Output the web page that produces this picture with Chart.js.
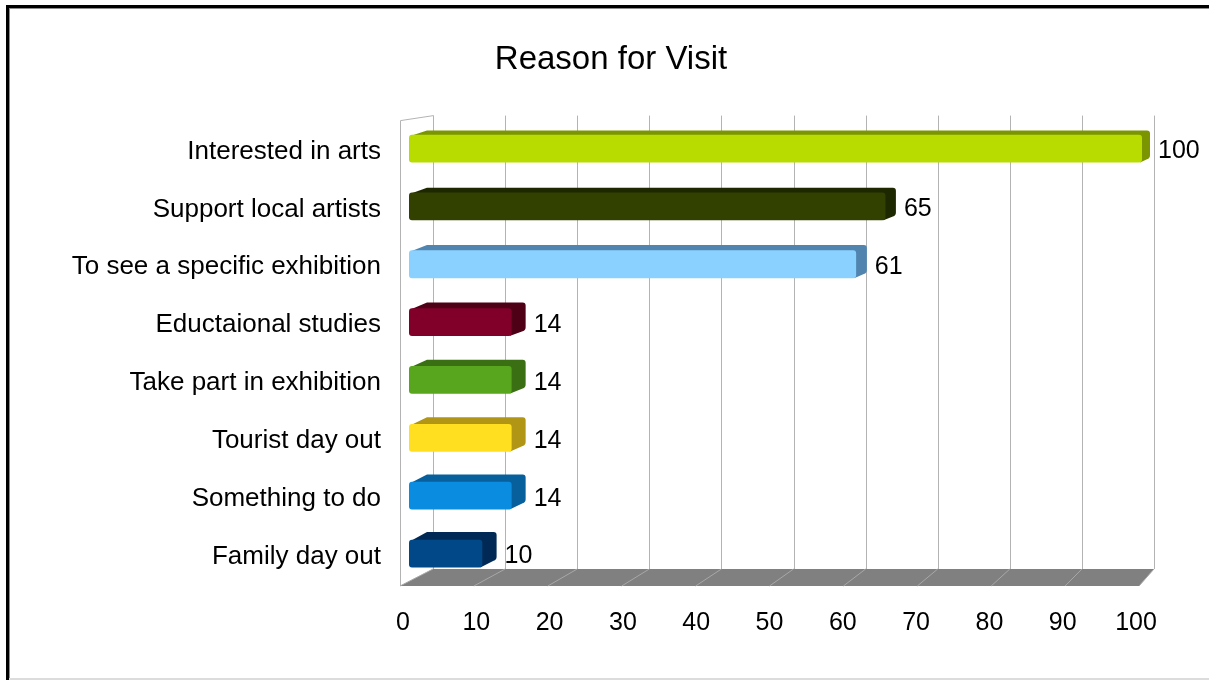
<!DOCTYPE html>
<html>
<head>
<meta charset="utf-8">
<title>Reason for Visit</title>
<script src="https://cdn.jsdelivr.net/npm/chart.js@4/dist/chart.umd.min.js"></script>
<style>
  body { margin: 0; background: #fff; overflow: hidden; }
  .frame {
    position: absolute; left: 6px; top: 5px; width: 1300px; height: 800px;
    border-left: 3px solid #000; border-top: 3px solid #000;
    box-shadow: inset 1px 1px 0 #8c8c8c;
  }
  .baseline {
    position: absolute; left: 9px; top: 678px; width: 1300px; height: 2px; background: #dcdcdc;
  }
  #chart { position: absolute; left: 0; top: 0; }
</style>
</head>
<body>
<div class="frame"></div>
<div class="baseline"></div>
<canvas id="chart" width="1209" height="680"></canvas>
<script>
const categories = [
  "Interested in arts",
  "Support local artists",
  "To see a specific exhibition",
  "Eductaional studies",
  "Take part in exhibition",
  "Tourist day out",
  "Something to do",
  "Family day out",
];
const visitors = [100, 65, 61, 14, 14, 14, 14, 10];
const tickValues = [0, 10, 20, 30, 40, 50, 60, 70, 80, 90, 100];

const frontColors = ["#b8dc00", "#334100", "#8bd1ff", "#80002a", "#58a51e", "#ffdf20", "#0a8de0", "#004888"];
const sideColors = ["#7b9500", "#1d2700", "#5185b0", "#4e0016", "#3a7013", "#b09614", "#07609c", "#002a55"];

const FONT = "'Liberation Sans', Arial, sans-serif";

// back wall, floor and the depth faces of each bar
const depth3d = {
  id: "depth3d",
  beforeDatasetsDraw(chart) {
    const { ctx, chartArea: a, scales } = chart;
    const xs = scales.x;
    const t = (p) => (p - a.left) / a.width;
    const frontX = (v) => { const p = xs.getPixelForValue(v); return p - 9 + 6 * t(p); };
    const backX = (v) => { const p = xs.getPixelForValue(v); return p + 24 - 12 * t(p); };
    const floorFront = a.bottom + 3.5, floorBack = a.bottom - 13.5;
    const wallTop = a.top - 4, wallTopFront = a.top + 1;
    const lo = tickValues[0], hi = tickValues[tickValues.length - 1];

    ctx.save();
    // left side wall outline
    ctx.strokeStyle = "#b3b3b3";
    ctx.lineWidth = 1;
    ctx.beginPath();
    ctx.moveTo(Math.round(frontX(lo)) + 0.5, floorFront);
    ctx.lineTo(Math.round(frontX(lo)) + 0.5, wallTopFront);
    ctx.lineTo(Math.round(backX(lo)) + 0.5, wallTop);
    ctx.stroke();

    // vertical grid lines on the back wall
    tickValues.forEach((v) => {
      const bx = Math.round(backX(v)) + 0.5;
      ctx.beginPath();
      ctx.moveTo(bx, wallTop);
      ctx.lineTo(bx, floorBack);
      ctx.stroke();
    });

    // floor
    ctx.fillStyle = "#808080";
    ctx.beginPath();
    ctx.moveTo(frontX(lo), floorFront);
    ctx.lineTo(frontX(hi), floorFront);
    ctx.lineTo(backX(hi), floorBack);
    ctx.lineTo(backX(lo), floorBack);
    ctx.closePath();
    ctx.fill();
    ctx.strokeStyle = "#a8a8a8";
    tickValues.forEach((v) => {
      ctx.beginPath();
      ctx.moveTo(frontX(v), floorFront);
      ctx.lineTo(backX(v), floorBack);
      ctx.stroke();
    });

    // top and side faces of the bars
    const meta = chart.getDatasetMeta(0);
    meta.data.forEach((bar, i) => {
      const { x, y, base, height } = bar.getProps(["x", "y", "base", "height"], true);
      const top = y - height / 2, bottom = y + height / 2;
      const dx = 15 - 7 * t(x), dxb = 15 - 7 * t(base);
      const dy = 4 + 4 * (y - a.top) / a.height;
      ctx.fillStyle = sideColors[i];
      ctx.beginPath();
      ctx.moveTo(base + 2, top + 1);
      ctx.lineTo(base + dxb + 3, top - dy);
      ctx.lineTo(x + dx - 3, top - dy);
      ctx.quadraticCurveTo(x + dx, top - dy, x + dx, top - dy + 3);
      ctx.lineTo(x + dx, bottom - dy - 3);
      ctx.quadraticCurveTo(x + dx, bottom - dy, x + dx - 3, bottom - dy + 1);
      ctx.lineTo(x - 2, bottom);
      ctx.lineTo(x - 2, top + 1);
      ctx.closePath();
      ctx.fill();
    });
    ctx.restore();
  },
  afterDatasetsDraw(chart) {
    const { ctx, chartArea: a } = chart;
    const meta = chart.getDatasetMeta(0);
    ctx.save();
    ctx.font = "25px " + FONT;
    ctx.fillStyle = "#000";
    ctx.textAlign = "left";
    ctx.textBaseline = "middle";
    meta.data.forEach((bar, i) => {
      const { x, y } = bar.getProps(["x", "y"], true);
      const dx = 15 - 7 * (x - a.left) / a.width;
      ctx.fillText(String(visitors[i]), x + dx + 8, y + 3);
    });
    ctx.restore();
  },
};

new Chart(document.getElementById("chart"), {
  type: "bar",
  data: {
    labels: categories,
    datasets: [
      {
        label: "Reason for Visit",
        data: visitors,
        backgroundColor: frontColors,
        borderRadius: 3,
        borderSkipped: false,
        borderWidth: 0,
        categoryPercentage: 1,
        barPercentage: 0.48,
      },
    ],
  },
  options: {
    indexAxis: "y",
    responsive: false,
    animation: false,
    devicePixelRatio: 1,
    layout: { padding: { left: 13, right: 0, top: 20, bottom: 0 } },
    plugins: {
      legend: { display: false },
      tooltip: { enabled: false },
      title: {
        display: true,
        text: "Reason for Visit",
        color: "#000",
        font: { family: FONT, size: 33, weight: "normal" },
        padding: { top: 20, bottom: 40 },
      },
    },
    scales: {
      x: {
        min: 0,
        max: 100,
        afterBuildTicks: (scale) => { scale.ticks = tickValues.map((v) => ({ value: v })); },
        afterFit: (scale) => { scale.height = 97.5; },
        grid: { display: false, drawTicks: false },
        border: { display: false },
        ticks: {
          color: "#000",
          font: { family: FONT, size: 25 },
          padding: 26,
          labelOffset: -6,
          maxRotation: 0,
          autoSkip: false,
        },
      },
      y: {
        afterFit: (scale) => { scale.width = 396; },
        grid: { display: false, drawTicks: false },
        border: { display: false },
        ticks: {
          color: "#000",
          font: { family: FONT, size: 26 },
          padding: 28,
          labelOffset: 3,
        },
      },
      // empty strip on the right that leaves room for the value labels
      yRight: {
        axis: "y",
        position: "right",
        afterFit: (scale) => { scale.width = 67; },
        grid: { display: false, drawTicks: false },
        border: { display: false },
        ticks: { display: false },
      },
    },
  },
  plugins: [depth3d],
});
</script>
</body>
</html>
